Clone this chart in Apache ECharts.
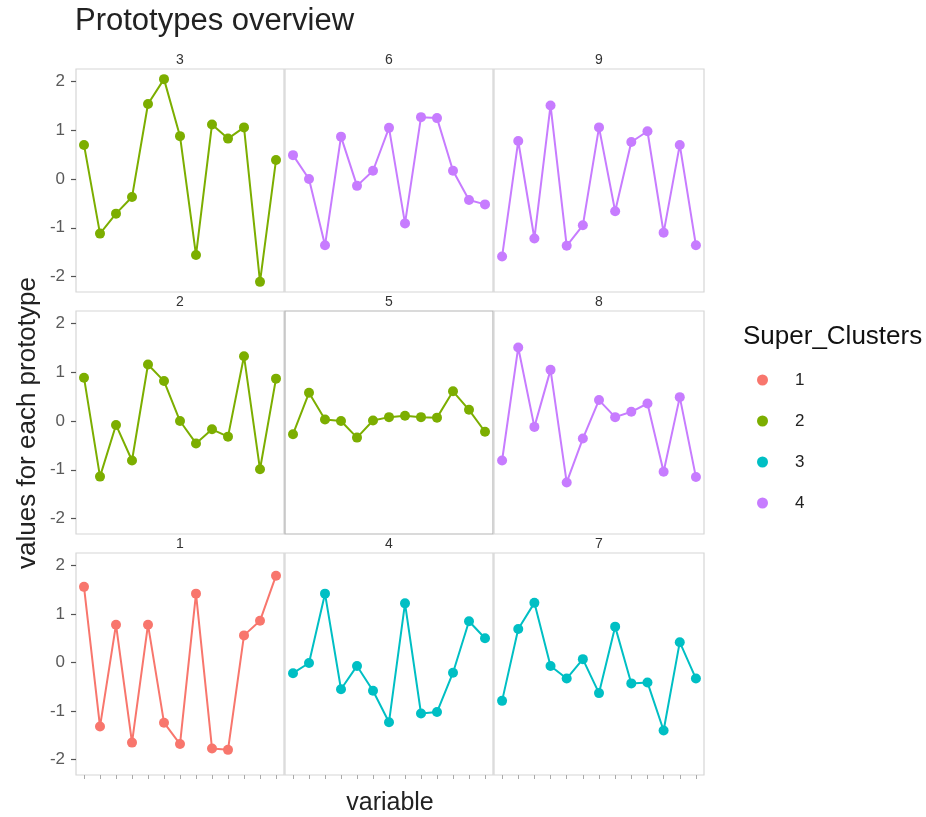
<!DOCTYPE html>
<html><head><meta charset="utf-8">
<script src="https://cdn.jsdelivr.net/npm/echarts@6/dist/echarts.min.js"></script>
<style>html,body{margin:0;padding:0;background:#fff}#c{width:926px;height:817px}</style>
</head><body><div id="c"></div>
<script>
var variables = ['V1','V2','V3','V4','V5','V6','V7','V8','V9','V10','V11','V12','V13'];
var yTicks = [-2, -1, 0, 1, 2];
var clusterNames = ['1','2','3','4'];
var clusterColors = ['#F8766D','#7CAE00','#00BFC4','#C77CFF'];
// prototype -> super cluster
var protoCluster = {1:'1',2:'2',3:'2',4:'3',5:'2',6:'4',7:'3',8:'4',9:'4'};
// facet order (row-major)
var facetOrder = [3,6,9,2,5,8,1,4,7];

var proto1 = [1.56,-1.32,0.78,-1.65,0.78,-1.24,-1.68,1.42,-1.77,-1.80,0.56,0.86,1.79];
var proto2 = [0.89,-1.14,-0.08,-0.81,1.16,0.82,0.00,-0.46,-0.17,-0.32,1.33,-0.99,0.87];
var proto3 = [0.70,-1.12,-0.71,-0.37,1.54,2.05,0.88,-1.56,1.12,0.83,1.06,-2.11,0.39];
var proto4 = [-0.22,-0.01,1.42,-0.55,-0.07,-0.58,-1.23,1.22,-1.05,-1.02,-0.21,0.85,0.50];
var proto5 = [-0.27,0.58,0.03,0.00,-0.34,0.01,0.08,0.11,0.08,0.07,0.61,0.23,-0.22];
var proto6 = [0.49,0.00,-1.36,0.87,-0.14,0.17,1.05,-0.91,1.27,1.25,0.17,-0.43,-0.52];
var proto7 = [-0.79,0.69,1.23,-0.07,-0.33,0.07,-0.63,0.74,-0.43,-0.41,-1.40,0.42,-0.33];
var proto8 = [-0.81,1.51,-0.12,1.05,-1.26,-0.36,0.43,0.08,0.19,0.36,-1.04,0.49,-1.15];
var proto9 = [-1.59,0.78,-1.22,1.51,-1.37,-0.95,1.06,-0.66,0.76,0.98,-1.10,0.70,-1.36];
var protoData = {1:proto1,2:proto2,3:proto3,4:proto4,5:proto5,6:proto6,7:proto7,8:proto8,9:proto9};

var FONT = 'Liberation Sans, Arial, sans-serif';
var colLeft = [76, 285, 494];
var colWidth = [208, 208, 210];
var rowTop = [69, 311, 553];
var rowHeight = [223, 223, 222];

var grids = [], xAxes = [], yAxes = [], series = [], graphics = [];
facetOrder.forEach(function(p, i){
  var r = Math.floor(i/3), c = i % 3;
  grids.push({left: colLeft[c], top: rowTop[r], width: colWidth[c], height: rowHeight[r],
    show: true, borderColor: p === 5 ? '#b5b5b5' : '#d6d6d6', borderWidth: 1.2, backgroundColor: '#fff'});
  xAxes.push({type: 'category', gridIndex: i, data: variables, boundaryGap: true, position: 'bottom',
    axisLine: {show: false, onZero: false},
    axisTick: {show: r === 2, alignWithLabel: true, interval: 0, length: 4, lineStyle: {color: '#aaa'}},
    axisLabel: {show: false}, splitLine: {show: false}});
  yAxes.push({type: 'value', gridIndex: i, min: -2.318, max: 2.258, position: 'left',
    axisLine: {show: false, onZero: false},
    axisTick: {show: c === 0, length: 5, lineStyle: {color: '#555', width: 1.2}, customValues: yTicks},
    axisLabel: {show: c === 0, color: '#5a5a5a', fontSize: 17, fontFamily: FONT, margin: 11, customValues: yTicks},
    splitLine: {show: false}});
  var cl = protoCluster[p];
  var col = clusterColors[clusterNames.indexOf(cl)];
  series.push({type: 'line', name: cl, xAxisIndex: i, yAxisIndex: i, data: protoData[p],
    symbol: 'circle', symbolSize: 10, itemStyle: {color: col}, lineStyle: {color: col, width: 2},
    animation: false});
  graphics.push({type: 'text', x: colLeft[c] + colWidth[c]/2, y: rowTop[r] - 9,
    style: {text: String(p), fill: '#333', font: '14px ' + FONT, textAlign: 'center', textVerticalAlign: 'middle'}});
});

graphics.push({type: 'text', x: 743, y: 337, style: {text: 'Super_Clusters', fill: '#111', font: '26px ' + FONT, textVerticalAlign: 'middle'}});
graphics.push({type: 'text', x: 75, y: 21, style: {text: 'Prototypes overview', fill: '#222', font: '31px ' + FONT, textVerticalAlign: 'middle'}});
graphics.push({type: 'text', x: 390, y: 803, style: {text: 'variable', fill: '#222', font: '25px ' + FONT, textAlign: 'center', textVerticalAlign: 'middle'}});
graphics.push({type: 'text', x: 28, y: 423, rotation: Math.PI/2, style: {text: 'values for each prototype', fill: '#222', font: '26px ' + FONT, textAlign: 'center', textVerticalAlign: 'middle'}});

var chart = echarts.init(document.getElementById('c'));
chart.setOption({
  animation: false,
  backgroundColor: '#fff',
  grid: grids, xAxis: xAxes, yAxis: yAxes, series: series,
  legend: {data: clusterNames.map(function(n, k){ return {name: n, icon: 'circle', itemStyle: {color: clusterColors[k]}}; }),
    orient: 'vertical', left: 752, top: 365, itemWidth: 11, itemHeight: 11, itemGap: 21,
    textStyle: {fontSize: 17, lineHeight: 20, color: '#222', fontFamily: FONT, padding: [0,0,0,22]},
    selectedMode: false},
  graphic: graphics
});
</script></body></html>
